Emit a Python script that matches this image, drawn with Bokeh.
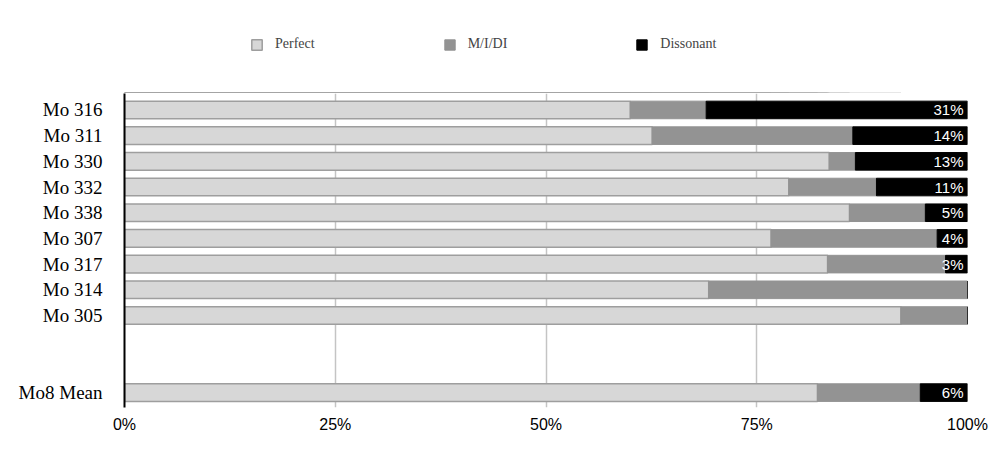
from bokeh.plotting import figure
from bokeh.layouts import column
from bokeh.models import (ColumnDataSource, Range1d, FixedTicker, Legend, LegendItem,
                          LabelSet)
from bokeh.core.properties import value
from bokeh.embed import file_html
from bokeh.resources import INLINE

# ---- data (percent) ----
categories = ["Mo 316", "Mo 311", "Mo 330", "Mo 332", "Mo 338", "Mo 307",
              "Mo 317", "Mo 314", "Mo 305", "Mo8 Mean"]
positions = [0, 1, 2, 3, 4, 5, 6, 7, 8, 11]
perfect = [60.0, 62.6, 83.6, 78.8, 86.0, 76.7, 83.4, 69.3, 92.1, 82.2]
mid_idi = [9.0, 23.8, 3.1, 10.4, 9.0, 19.7, 14.0, 30.7, 7.9, 12.2]
dissonant = [31.0, 13.6, 13.3, 10.8, 5.0, 3.6, 2.6, 0.0, 0.0, 5.6]
series_names = ["Perfect", "M/I/DI", "Dissonant"]
x_ticks = [0, 25, 50, 75, 100]

m1 = [a + b for a, b in zip(perfect, mid_idi)]
d1 = [a + b for a, b in zip(m1, dissonant)]
src = ColumnDataSource(dict(y=positions, p1=perfect, m1=m1, d1=d1))

styles = [dict(fill_color="#d7d7d7", line_color="#9e9e9e", line_width=1.5),
          dict(fill_color="#939393", line_color="#939393", line_width=1),
          dict(fill_color="#000000", line_color="#000000", line_width=1)]
bounds = [(0, "p1"), ("p1", "m1"), ("m1", "d1")]
bh = 0.685


def add_bars(fig):
    return [fig.hbar(y="y", left=lo, right=hi, height=bh, source=src, **st)
            for (lo, hi), st in zip(bounds, styles)]


# ---- main chart ----
p = figure(width=1000, height=359, output_backend="svg", toolbar_location=None,
           x_range=Range1d(0, 100), y_range=Range1d(11.58, -0.64),
           min_border_left=124, min_border_right=33, min_border_top=0,
           min_border_bottom=45)
p.outline_line_color = None
add_bars(p)

lab_idx = [i for i, d in enumerate(dissonant) if d > 0]
lab_src = ColumnDataSource(dict(
    x=[d1[i] for i in lab_idx],
    y=[positions[i] for i in lab_idx],
    t=[f"{dissonant[i]:.0f}%" for i in lab_idx],
))
labels = LabelSet(x="x", y="y", text="t", source=lab_src, text_align="right",
                  text_baseline="middle", x_offset=-4, text_color="white",
                  text_font=value("Liberation Sans"), text_font_size="15px")
p.add_layout(labels)

p.xaxis.ticker = FixedTicker(ticks=x_ticks)
p.xaxis.major_label_overrides = {t: f"{t}%" for t in x_ticks}
p.xaxis.axis_line_color = None
p.xaxis.major_tick_line_color = None
p.xaxis.minor_tick_line_color = None
p.xaxis.major_tick_out = 0
p.xaxis.minor_tick_out = 0
p.xaxis.major_label_text_font = "Liberation Sans"
p.xaxis.major_label_text_font_size = "16px"
p.xaxis.major_label_text_color = "#000000"
p.xaxis.major_label_standoff = 8

p.yaxis.ticker = FixedTicker(ticks=positions)
p.yaxis.major_label_overrides = {pos: c for pos, c in zip(positions, categories)}
p.yaxis.axis_line_color = "#000000"
p.yaxis.axis_line_width = 2
p.yaxis.major_tick_line_color = None
p.yaxis.minor_tick_line_color = None
p.yaxis.major_tick_out = 0
p.yaxis.minor_tick_out = 0
p.yaxis.major_label_text_font = "Liberation Serif"
p.yaxis.major_label_text_font_size = "19px"
p.yaxis.major_label_text_color = "#000000"
p.yaxis.major_label_standoff = 22

p.xgrid.ticker = FixedTicker(ticks=x_ticks)
p.xgrid.grid_line_color = "#c4c4c4"
p.xgrid.grid_line_width = 1.5
p.ygrid.grid_line_color = None

# ---- legend strip on top (its bars lie outside its visible range) ----
lf = figure(width=1000, height=93, output_backend="svg", toolbar_location=None,
            x_range=Range1d(0, 100), y_range=Range1d(100, 200),
            x_axis_location=None, y_axis_location=None, min_border=0)
lf.outline_line_color = None
lf.grid.grid_line_color = None
lr = add_bars(lf)
legend = Legend(items=[LegendItem(label=n, renderers=[r])
                       for n, r in zip(series_names, lr)],
                orientation="horizontal", location=(126, 41), spacing=128,
                glyph_width=13, glyph_height=13, label_standoff=12,
                label_text_font="Liberation Serif", label_text_font_size="14px",
                border_line_color=None, background_fill_alpha=0,
                padding=0, margin=0)
lf.add_layout(legend, "center")

layout = column(lf, p, spacing=0)
open("out.html", "w").write(file_html(layout, INLINE))
